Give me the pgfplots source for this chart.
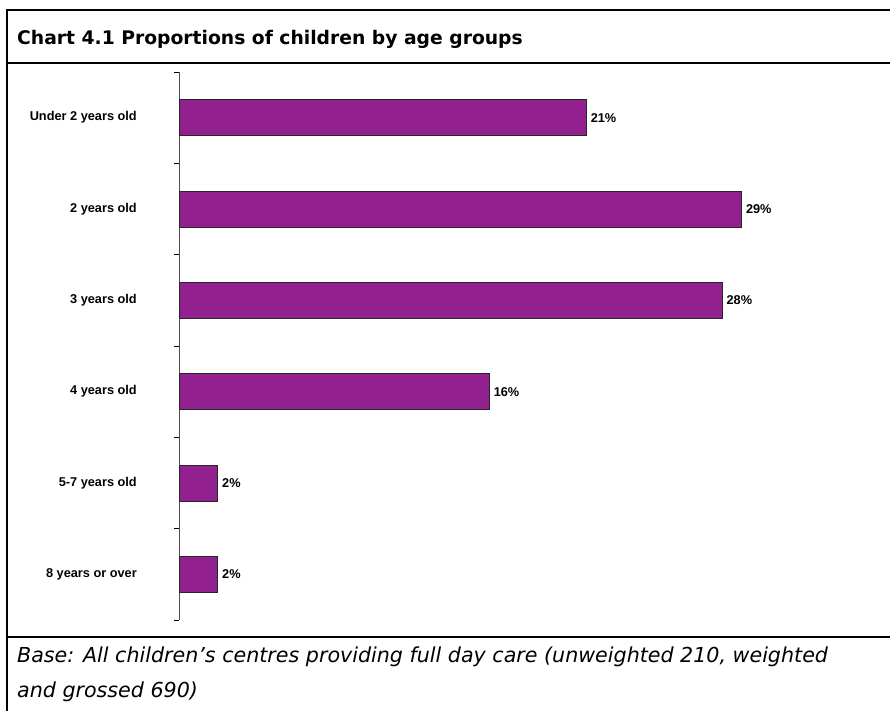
\documentclass[border=0pt]{standalone}
\usepackage{pgfplots}
\pgfplotsset{compat=1.18}
\usepackage{fontspec}
\setmainfont{Liberation Sans}
\newfontfamily\titlefont{DejaVu Sans}
\newfontfamily\notefont{DejaVu Sans}
\definecolor{barpurple}{RGB}{146,32,143}
\definecolor{axisgray}{RGB}{90,70,90}
\begin{document}
\begin{tikzpicture}
\begin{scope}[x=1bp,y=-1bp]
\useasboundingbox (0,0) rectangle (890,711);
\draw[line width=2.2bp] (7,10) -- (900,10);
\draw[line width=2.2bp] (7,63) -- (900,63);
\draw[line width=2.2bp] (7,637) -- (900,637);
\draw[line width=2.2bp] (7,8.9) -- (7,720);
\node[anchor=base west, inner sep=0pt] at (17,45) {\titlefont\bfseries\fontsize{18.8}{22}\selectfont Chart 4.1 Proportions of children by age groups};
\node[anchor=base west, inner sep=0pt] at (17,662) {\notefont\itshape\fontsize{20.7}{24}\selectfont Base: All children’s centres providing full day care (unweighted 210, weighted};
\node[anchor=base west, inner sep=0pt] at (17,697) {\notefont\itshape\fontsize{20.7}{24}\selectfont and grossed 690)};
\end{scope}
\begin{axis}[
 at={(179bp,-620bp)}, anchor=south west,
 scale only axis, width=679bp, height=548bp,
 xbar, bar width=36bp, bar shift=0pt,
 xmin=0, xmax=35,
 ymin=-0.5, ymax=5.5, y dir=reverse,
 hide x axis,
 axis y line*=left,
 y axis line style={draw=axisgray, line width=0.9bp},
 ytick={0,...,5},
 yticklabels={Under 2 years old, 2 years old, 3 years old, 4 years old, 5-7 years old, 8 years or over},
 major tick length=0pt,
 extra y ticks={-0.5,0.5,1.5,2.5,3.5,4.5,5.5},
 extra y tick labels={},
 extra y tick style={major tick length=5bp, tick align=outside, tick style={draw=black, line width=0.8bp}},
 yticklabel style={font=\bfseries\fontsize{12.8}{15}\selectfont, anchor=east, inner sep=0pt, xshift=-42bp},
 /pgf/number format/assume math mode=true,
 point meta=x,
 nodes near coords={\pgfmathprintnumber{\pgfplotspointmeta}\%},
 nodes near coords style={font=\bfseries\fontsize{12.8}{15}\selectfont, anchor=west, inner sep=0pt, xshift=4bp, text=black},
]
\addplot[fill=barpurple, draw=black!85, line width=0.8bp] coordinates {(21,0) (29,1) (28,2) (16,3) (2,4) (2,5)};
\end{axis}
\end{tikzpicture}
\end{document}
